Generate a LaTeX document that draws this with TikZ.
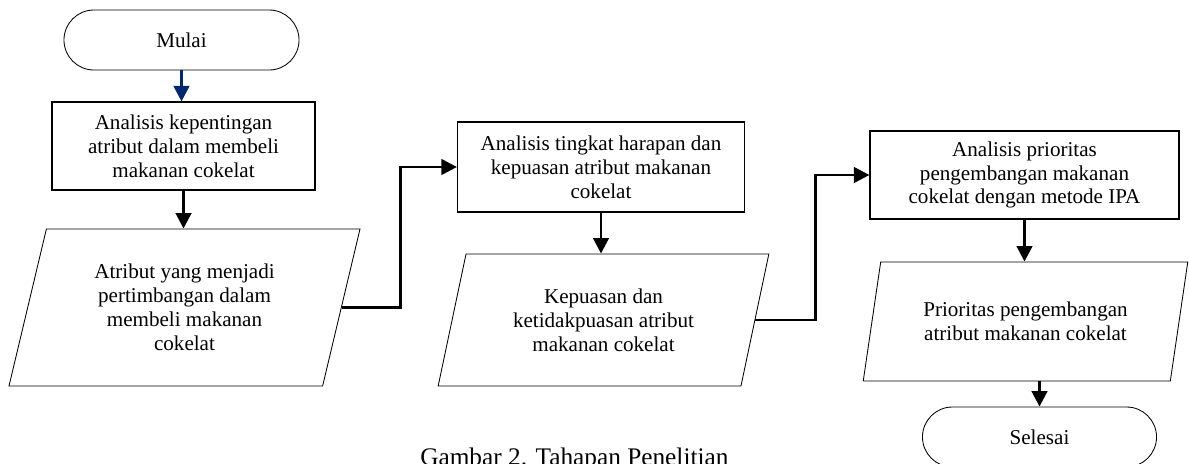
\documentclass[tikz,border=0pt]{standalone}
\usepackage{fontspec}
\setmainfont{Liberation Serif}
\usetikzlibrary{arrows.meta,shapes.geometric}
\definecolor{startblue}{RGB}{0,40,110}

\begin{document}
\begin{tikzpicture}[x=0.025cm,y=-0.025cm,
    font=\fontsize{15}{17}\selectfont,
    >={Triangle[length=11pt,width=11pt]},
    terminal/.style={draw,rectangle,rounded corners=0.75cm,
      minimum width=5.875cm,minimum height=1.5cm,line width=0.6pt},
    process/.style={draw,rectangle,align=center,line width=0.8pt},
    data/.style={draw,trapezium,trapezium left angle=75,
      trapezium right angle=105,trapezium stretches=true,
      align=center,line width=0.6pt},
    flow/.style={->,line width=2pt}]
  \useasboundingbox (0,0) rectangle (1189,463);
  % first column
  \node[terminal] (mulai) at (181.5,40) {Mulai};
  \node[process,minimum width=6.575cm,minimum height=2.2cm]
    (kepentingan) at (183.5,146)
    {Analisis kepentingan\\atribut dalam membeli\\makanan cokelat};
  \node[data,minimum width=8.775cm,minimum height=3.925cm]
    (pertimbangan) at (184.5,307.5)
    {Atribut yang menjadi\\pertimbangan dalam\\membeli makanan\\cokelat};
  % second column
  \node[process,minimum width=7.175cm,minimum height=2.25cm]
    (harapan) at (601,167)
    {Analisis tingkat harapan dan\\kepuasan atribut makanan\\cokelat};
  \node[data,minimum width=8.275cm,minimum height=3.3cm]
    (kepuasan) at (603.5,320)
    {Kepuasan dan\\ketidakpuasan atribut\\makanan cokelat};
  % third column
  \node[process,minimum width=7.725cm,minimum height=2.2cm]
    (ipa) at (1024.5,175)
    {Analisis prioritas\\pengembangan makanan\\cokelat dengan metode IPA};
  \node[data,minimum width=8.125cm,minimum height=2.975cm]
    (prioritas) at (1025.5,321.5)
    {Prioritas pengembangan\\atribut makanan cokelat};
  \node[terminal,minimum width=5.85cm] (selesai) at (1039.5,437) {Selesai};
  % caption
  \node[anchor=north west,inner sep=0pt,font=\fontsize{18}{21}\selectfont]
    (judul) at (420,448) {Gambar 2. Tahapan Penelitian};
  % arrows
  \draw[flow,startblue] (mulai.south) -- (mulai.south |- kepentingan.north);
  \draw[flow] (kepentingan.south) -- (kepentingan.south |- pertimbangan.north);
  \draw[flow] (pertimbangan.east) -- ++(59,0) |- (harapan.west);
  \draw[flow] (harapan.south) -- (harapan.south |- kepuasan.north);
  \draw[flow] (kepuasan.east) -- ++(60,0) |- (ipa.west);
  \draw[flow] (ipa.south) -- (ipa.south |- prioritas.north);
  \draw[flow] (selesai.north |- prioritas.south) -- (selesai.north);
\end{tikzpicture}
\end{document}
